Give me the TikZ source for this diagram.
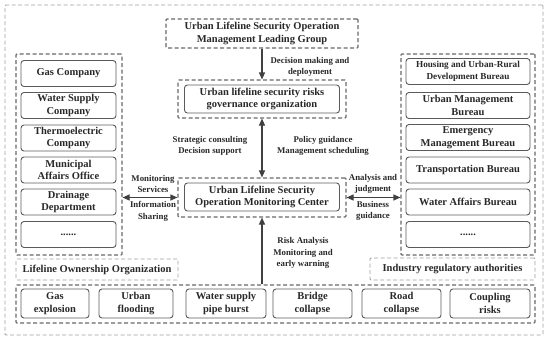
\documentclass[tikz,border=0pt]{standalone}
\usepackage{fontspec}
\setmainfont{Liberation Serif}
\usetikzlibrary{arrows.meta, positioning}
\definecolor{boxcol}{RGB}{90,90,90}
\definecolor{grpcol}{RGB}{105,105,105}
\definecolor{framecol}{RGB}{160,160,160}
\definecolor{txtcol}{RGB}{40,40,40}
\newcommand{\fmain}{\fontsize{10.5}{12.5}\selectfont\bfseries}
\newcommand{\fsmall}{\fontsize{9.2}{11.5}\selectfont\bfseries}
\newcommand{\flbl}{\fontsize{8.8}{11.5}\selectfont\bfseries}
\tikzset{
  blk/.style={rectangle, draw=boxcol, rounded corners=3pt, line width=0.9pt,
    align=center, text=txtcol, font=\fmain, inner sep=1pt},
  grp/.style={rectangle, draw=grpcol, dash pattern=on 4pt off 2.5pt,
    line width=1.1pt, rounded corners=1pt},
  grpL/.style={grp, draw=framecol, line width=0.9pt, text=txtcol,
    font=\fmain},
  lbl/.style={align=center, text=txtcol, font=\flbl, inner sep=0pt},
  arr/.style={-{Triangle[length=7pt,width=6pt]}, line width=1.1pt,
    draw=black!75},
  arrD/.style={{Triangle[length=7pt,width=6pt]}-{Triangle[length=7pt,width=6pt]},
    line width=1.1pt, draw=black!75},
}

\begin{document}
\begin{tikzpicture}[x=1pt, y=-1pt]
  \useasboundingbox (0,0) rectangle (550,340);

  % Outer frame
  \node[grpL, minimum width=538pt, minimum height=330pt] (frame) at (274,170) {};

  % Central column
  \node[grp, minimum width=192pt, minimum height=29pt, align=center,
        text=txtcol, font=\fmain] (lead) at (262,33.5)
       {Urban Lifeline Security Operation\\Management Leading Group};
  \node[grp, minimum width=168pt, minimum height=38pt] (gov) at (262,99) {};
  \node[blk, minimum width=155pt, minimum height=28pt] (govin) at (262,99)
       {Urban lifeline security risks\\governance organization};
  \node[grp, minimum width=168pt, minimum height=39pt] (mon) at (262,197.5) {};
  \node[blk, minimum width=155pt, minimum height=28pt] (monin) at (262,197)
       {Urban Lifeline Security\\Operation Monitoring Center};

  % Lifeline ownership organizations (left)
  \node[grp, minimum width=106pt, minimum height=201pt] (lgrp) at (69,154.5) {};
  \node[blk, minimum width=95pt, minimum height=26pt] (gasco) at (68.5,73.5) {Gas Company};
  \node[blk, minimum width=95pt, minimum height=26pt] (waterco) at (68.5,105.5) {Water Supply\\Company};
  \node[blk, minimum width=95pt, minimum height=26pt] (thermo) at (68.5,138) {Thermoelectric\\Company};
  \node[blk, minimum width=95pt, minimum height=26pt] (munic) at (68.5,170) {Municipal\\Affairs Office};
  \node[blk, minimum width=95pt, minimum height=26pt] (drain) at (68.5,202) {Drainage\\Department};
  \node[blk, minimum width=95pt, minimum height=26pt] (lmore) at (68.5,234.5) {......};
  \node[grpL, minimum width=162pt, minimum height=21pt] (lname) at (97,269.5)
       {Lifeline Ownership Organization};

  % Industry regulatory authorities (right)
  \node[grp, minimum width=134pt, minimum height=201pt] (rgrp) at (468,154.5) {};
  \node[blk, minimum width=124pt, minimum height=26pt, font=\fsmall] (housing) at (468,71.5)
       {Housing and Urban-Rural\\Development Bureau};
  \node[blk, minimum width=124pt, minimum height=26pt] (urbman) at (468,105.5) {Urban Management\\Bureau};
  \node[blk, minimum width=124pt, minimum height=26pt] (emerg) at (468,137.5) {Emergency\\Management Bureau};
  \node[blk, minimum width=124pt, minimum height=26pt] (transp) at (468,170) {Transportation Bureau};
  \node[blk, minimum width=124pt, minimum height=26pt] (wateraf) at (468,202) {Water Affairs Bureau};
  \node[blk, minimum width=124pt, minimum height=26pt] (rmore) at (468,234.5) {......};
  \node[grpL, minimum width=165pt, minimum height=22pt] (rname) at (452.5,269)
       {Industry regulatory authorities};

  % Risks (bottom)
  \node[grp, minimum width=519pt, minimum height=38pt] (risks) at (275.5,304) {};
  \node[blk, minimum width=68pt, minimum height=29pt] (gasexp) at (55,303.5) {Gas\\explosion};
  \node[blk, minimum width=74pt, minimum height=29pt] (flood) at (136,303.5) {Urban\\flooding};
  \node[blk, minimum width=80pt, minimum height=29pt] (pipe) at (226,303.5) {Water supply\\pipe burst};
  \node[blk, minimum width=79pt, minimum height=29pt] (bridge) at (312.5,303.5) {Bridge\\collapse};
  \node[blk, minimum width=79pt, minimum height=29pt] (road) at (401.5,303.5) {Road\\collapse};
  \node[blk, minimum width=80pt, minimum height=29pt] (coupl) at (490,303.5) {Coupling\\risks};

  % Connectors
  \draw[arr] (lead.south) -- (gov.north);
  \draw[arrD] (gov.south) -- (mon.north);
  \draw[arr] (risks.north -| mon.south) -- (mon.south);
  \draw[arrD] (lgrp.east |- mon.west) -- (mon.west);
  \draw[arrD] (mon.east) -- (rgrp.west |- mon.east);

  % Connector labels
  \node[lbl] (decl) at (310,67) {Decision making and\\deployment};
  \node[lbl] (stratl) at (210,146) {Strategic consulting\\Decision support};
  \node[lbl] (polil) at (323,146) {Policy guidance\\Management scheduling};
  \node[lbl] (monil) at (153,184) {Monitoring\\Services};
  \node[lbl] (infol) at (153,211.5) {Information\\Sharing};
  \node[lbl] (anall) at (373,184) {Analysis and\\judgment};
  \node[lbl] (busil) at (373,211) {Business\\guidance};
  \node[lbl] (riskl) at (303,253) {Risk Analysis\\Monitoring and\\early warning};
\end{tikzpicture}
\end{document}
